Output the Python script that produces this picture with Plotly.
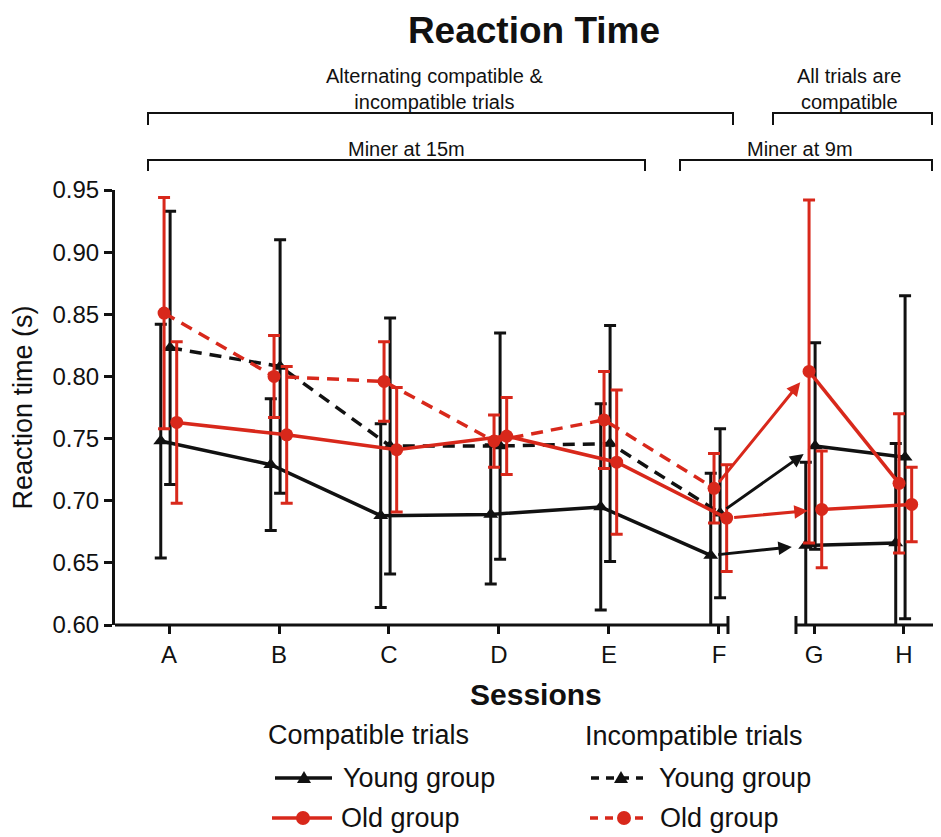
import plotly.graph_objects as go

# ---------------- data ----------------
sessions = ["A", "B", "C", "D", "E", "F", "G", "H"]

compat_young = [0.748, 0.729, 0.688, 0.689, 0.695, 0.656, 0.664, 0.666]
compat_young_err = [0.094, 0.053, 0.074, 0.056, 0.083, 0.066, 0.067, 0.080]

compat_old = [0.763, 0.753, 0.741, 0.752, 0.731, 0.686, 0.693, 0.697]
compat_old_err = [0.065, 0.055, 0.050, 0.031, 0.058, 0.043, 0.047, 0.030]

incompat_young = [0.823, 0.808, 0.744, 0.744, 0.746, 0.690, 0.744, 0.735]
incompat_young_err = [0.110, 0.102, 0.103, 0.091, 0.095, 0.068, 0.083, 0.130]

incompat_old = [0.851, 0.800, 0.796, 0.748, 0.765, 0.710, 0.804, 0.714]
incompat_old_err = [0.093, 0.033, 0.032, 0.021, 0.039, 0.028, 0.138, 0.056]

y_ticks = [0.60, 0.65, 0.70, 0.75, 0.80, 0.85, 0.90, 0.95]

# ---------------- layout helpers ----------------
POS = [0, 1, 2, 3, 4, 5, 5.864, 6.682]      # category positions (axis break F|G)
X_RANGE = [-0.491, 6.964]
SEG1 = (-0.491, 5.082)
SEG2 = (5.70, 6.964)

BLACK = "#111111"
RED = "#d8281b"
FONT = "Liberation Sans, Arial, Helvetica, sans-serif"

OFF = 8                      # page body margin
W, H = 941 - OFF, 837 - OFF
ML, MR, MT = 115 - OFF, 6, 190 - OFF
PW, PH = 820, 435
MB = H - MT - PH


def px_x(px):                # screen x -> paper
    return (px - OFF - ML) / PW


def px_y(py):                # screen y -> paper
    return (MT + PH - (py - OFF)) / PH


series = [
    # name, values, errors, color, symbol, dash, offset
    ("Young group", compat_young, compat_young_err, BLACK, "triangle-up", "solid", -0.075),
    ("Old group", compat_old, compat_old_err, RED, "circle", "solid", 0.07),
    ("Young group", incompat_young, incompat_young_err, BLACK, "triangle-up", "12px,8px", 0.01),
    ("Old group", incompat_old, incompat_old_err, RED, "circle", "12px,8px", -0.045),
]
draw_order = [0, 2, 3, 1]

fig = go.Figure()

n1 = 6  # sessions A-F
for k in draw_order:
    name, vals, errs, col, sym, dash, off = series[k]
    msize = 13 if sym == "circle" else 13
    fig.add_trace(go.Scatter(
        x=[p + off for p in POS[:n1]], y=vals[:n1],
        mode="lines+markers", name=name,
        line=dict(color=col, width=3.5, dash=dash),
        marker=dict(symbol=sym, size=msize, color=col),
        error_y=dict(type="data", array=errs[:n1], visible=True,
                     color=col, thickness=3, width=6),
        showlegend=False,
    ))
    fig.add_trace(go.Scatter(
        x=[p + off for p in POS[n1:]], y=vals[n1:],
        mode="lines+markers", name=name,
        line=dict(color=col, width=3.5, dash="solid"),
        marker=dict(symbol=sym, size=msize, color=col),
        error_y=dict(type="data", array=errs[n1:], visible=True,
                     color=col, thickness=3, width=6),
        showlegend=False,
    ))

annotations = []
# arrows across the axis break (F -> G)
for name, vals, errs, col, sym, dash, off in series:
    annotations.append(dict(
        x=POS[6] + off, y=vals[6], ax=POS[5] + off, ay=vals[5],
        xref="x", yref="y", axref="x", ayref="y",
        showarrow=True, arrowhead=2, arrowsize=0.9, arrowwidth=3,
        arrowcolor=col, standoff=14, startstandoff=6, text="",
    ))

shapes = []
for a, b in (SEG1, SEG2):
    shapes.append(dict(type="line", xref="x", yref="paper", x0=a, x1=b, y0=0, y1=0,
                       line=dict(color=BLACK, width=3)))
cap = 9 / PH
for xb in (SEG1[1], SEG2[0]):
    shapes.append(dict(type="line", xref="x", yref="paper", x0=xb, x1=xb,
                       y0=-cap, y1=cap, line=dict(color=BLACK, width=3)))


def bracket(x0, x1, ytop, ybot):
    return dict(type="path", xref="paper", yref="paper",
                path=f"M {px_x(x0)},{px_y(ybot)} L {px_x(x0)},{px_y(ytop)} "
                     f"L {px_x(x1)},{px_y(ytop)} L {px_x(x1)},{px_y(ybot)}",
                line=dict(color=BLACK, width=2))


shapes += [
    bracket(148, 733, 113, 125),
    bracket(773, 932, 113, 125),
    bracket(148, 645, 160, 171),
    bracket(680, 932, 160, 171),
]

bracket_texts = [
    ("Alternating compatible &<br>incompatible trials", 434, 89),
    ("All trials are<br>compatible", 849, 89),
    ("Miner at 15m", 406, 149),
    ("Miner at 9m", 800, 149),
]
for txt, cx, cy in bracket_texts:
    annotations.append(dict(
        text=txt, x=px_x(cx), y=px_y(cy), xref="paper", yref="paper",
        showarrow=False, xanchor="center", yanchor="middle",
        font=dict(size=20, color=BLACK, family=FONT), align="center",
    ))

# x-axis title (centred as in the reference)
annotations.append(dict(
    text="<b>Sessions</b>", x=px_x(536), y=px_y(694), xref="paper", yref="paper",
    showarrow=False, xanchor="center", yanchor="middle",
    font=dict(size=30, color=BLACK, family=FONT),
))

# ---------------- legend (drawn) ----------------
legend_titles = [("Compatible trials", 266, 735), ("Incompatible trials", 583, 736)]
for txt, lx, cy in legend_titles:
    annotations.append(dict(
        text=txt, x=px_x(lx), y=px_y(cy), xref="paper", yref="paper",
        showarrow=False, xanchor="left", yanchor="middle",
        font=dict(size=27, color=BLACK, family=FONT),
    ))

legend_items = [
    # series index, sample x0, x1, marker x, text x, row y
    (0, 275, 332, 304, 341, 778),
    (1, 272, 332, 303, 339, 818),
    (2, 591, 643, 621, 657, 778),
    (3, 590, 643, 624, 658, 818),
]
for k, x0, x1, mx, tx, cy in legend_items:
    name, vals, errs, col, sym, dash, off = series[k]
    ldash = "solid" if dash == "solid" else "8px,7px"
    shapes.append(dict(type="line", xref="paper", yref="paper",
                       x0=px_x(x0), x1=px_x(x1), y0=px_y(cy), y1=px_y(cy),
                       line=dict(color=col, width=3.5, dash=ldash)))
    if sym == "circle":
        r = 7
        shapes.append(dict(type="circle", xref="paper", yref="paper",
                           x0=px_x(mx - r), x1=px_x(mx + r), y0=px_y(cy + r), y1=px_y(cy - r),
                           fillcolor=col, line=dict(color=col, width=0)))
    else:
        hw, hh = 7, 6
        shapes.append(dict(type="path", xref="paper", yref="paper",
                           path=f"M {px_x(mx - hw)},{px_y(cy + hh - 1)} L {px_x(mx + hw)},{px_y(cy + hh - 1)} "
                                f"L {px_x(mx)},{px_y(cy - hh - 1)} Z",
                           fillcolor=col, line=dict(color=col, width=0)))
    annotations.append(dict(
        text=name, x=px_x(tx), y=px_y(cy), xref="paper", yref="paper",
        showarrow=False, xanchor="left", yanchor="middle",
        font=dict(size=27, color=BLACK, family=FONT),
    ))

fig.update_layout(
    width=W, height=H,
    margin=dict(l=ML, r=MR, t=MT, b=MB, pad=0),
    paper_bgcolor="white", plot_bgcolor="white",
    font=dict(family=FONT, color=BLACK),
    showlegend=False,
    title=dict(text="<b>Reaction Time</b>", x=(534 - OFF) / W, xanchor="center",
               y=1 - (30 - OFF) / H, yanchor="middle", yref="container",
               font=dict(size=37, color=BLACK, family=FONT)),
    xaxis=dict(range=X_RANGE, tickvals=POS, ticktext=sessions,
               showline=False, showgrid=False, zeroline=False,
               ticks="outside", ticklen=8, tickwidth=3, tickcolor=BLACK,
               tickfont=dict(size=24, color=BLACK)),
    yaxis=dict(range=[0.6, 0.95], tickvals=y_ticks, tickformat=".2f",
               showline=True, linewidth=3, linecolor=BLACK,
               showgrid=False, zeroline=False,
               ticks="outside", ticklen=8, tickwidth=3, tickcolor=BLACK,
               tickfont=dict(size=24, color=BLACK),
               title=dict(text="Reaction time (s)", font=dict(size=27, color=BLACK), standoff=14)),
    shapes=shapes,
    annotations=annotations,
)

fig.write_html("out.html")
